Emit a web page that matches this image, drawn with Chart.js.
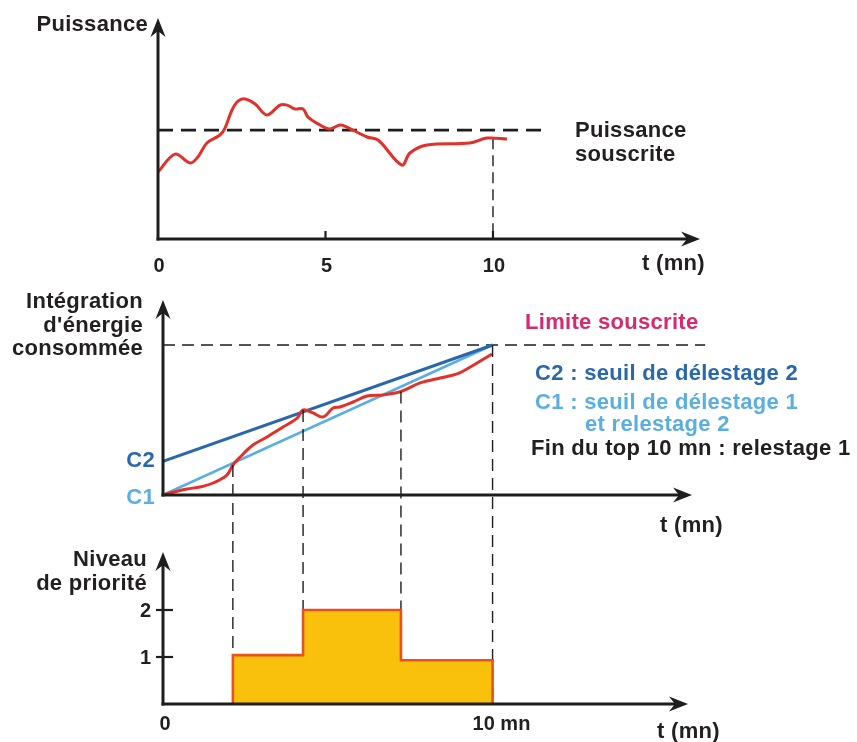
<!DOCTYPE html>
<html><head><meta charset="utf-8">
<script src="https://cdn.jsdelivr.net/npm/chart.js@4.4.1/dist/chart.umd.min.js"></script>
<style>
html,body{margin:0;padding:0;background:#fff;}
#wrap{position:relative;width:857px;height:742px;overflow:hidden;background:#fff;}
canvas{position:absolute;left:0;top:0;}
.t{position:absolute;font-family:"Liberation Sans",Arial,Helvetica,sans-serif;font-weight:bold;letter-spacing:0.3px;color:#231f20;white-space:nowrap;}
</style></head>
<body><div id="wrap">
<canvas id="c1" width="857" height="742"></canvas>
<canvas id="c2" width="857" height="742"></canvas>
<canvas id="c3" width="857" height="742"></canvas>
</div>
<script>
// ---------- DATA ----------
// Panel 1 : Puissance (t in mn)
const powerTime  = [0,0.51,0.96,1.19,1.46,1.85,2.0,2.21,2.39,2.6,2.9,3.25,3.64,3.85,4.09,4.33,4.48,4.84,5.13,5.43,5.64,6.24,6.57,7.28,7.52,8.03,9.31,9.82,10.42];
const powerValue = [61.5,78,69.8,75.3,88.2,95.5,101.9,118.5,126.7,128.6,124,113.9,123,123,119.4,119.4,112,104.7,101,104.7,102.8,93.7,90.9,67.9,79,86.3,88.2,92.7,91.8];
const subscribedPower = 100;
const subscribedEnd = 11.5;
const powerAt10 = 92.5;
const powerTicks = [0,5,10];
const powerMarks = [5,10];

// Panel 2 : Intégration d'énergie consommée
const energyTime  = [0,0.21,0.73,1.12,1.52,1.94,2.12,2.34,2.73,3.16,3.64,4.07,4.25,4.55,4.86,5.16,5.37,5.77,6.19,6.68,7.22,7.8,8.41,8.92,9.32,9.98];
const energyValue = [0,1.3,4,5.3,8,13.3,20,25.3,33.3,38.7,45.3,51.3,56.7,54.7,52,58,58.7,62,66,66.7,69,74.7,78,80.7,85.3,94];
const periodEnd = 10;
const limitEnergy = 100;
const limitLineEnd = 16.45;
const c2Start = 22.5;
const c1Start = 0;

// Panel 3 : Niveau de priorité
const stepTimes = [2.12, 4.25, 7.22, 10];
const stepLevels = [1.04, 2, 0.93];
const dropLevels = [20, 56.7, 69, 100];
const priorityTicks = [1,2];

// ---------- STYLE ----------
const AX = '#1e1e1e';
const RED = '#e2302b';
const DARKBLUE = '#2a68ad';
const LIGHTBLUE = '#5aaee0';
const MAGENTA = '#d42a6e';
const ORANGE = '#e8521c';
const GOLD = '#f9c10c';

Chart.defaults.devicePixelRatio = 1;

function arrowUp(ctx,x,t){ctx.beginPath();ctx.moveTo(x,t);ctx.lineTo(x+7.5,t+19);ctx.lineTo(x,t+13);ctx.lineTo(x-7.5,t+19);ctx.closePath();ctx.fill();}
function arrowRight(ctx,r,y){ctx.beginPath();ctx.moveTo(r,y);ctx.lineTo(r-19,y-7.5);ctx.lineTo(r-13,y);ctx.lineTo(r-19,y+7.5);ctx.closePath();ctx.fill();}

function axesPlugin(cfg){
  return {id:'axes_'+cfg.name, afterDatasetsDraw(chart){
    const {ctx, chartArea:a, scales:{x,y}} = chart;
    const x0 = x.getPixelForValue(0), y0 = y.getPixelForValue(0);
    ctx.save();
    ctx.strokeStyle = AX; ctx.fillStyle = AX; ctx.lineWidth = 3;
    ctx.beginPath(); ctx.moveTo(x0-1.5, y0); ctx.lineTo(a.right-12, y0); ctx.stroke();
    ctx.beginPath(); ctx.moveTo(x0, y0+1.5); ctx.lineTo(x0, a.top+12); ctx.stroke();
    arrowUp(ctx, x0, a.top); arrowRight(ctx, a.right, y0);
    ctx.lineWidth = 2.2;
    (cfg.xMarks||[]).forEach(v=>{const px=x.getPixelForValue(v);ctx.beginPath();ctx.moveTo(px,y0);ctx.lineTo(px,y0-8);ctx.stroke();});
    (cfg.yMarks||[]).forEach(v=>{const py=y.getPixelForValue(v);ctx.beginPath();ctx.moveTo(x0-7,py);ctx.lineTo(x0+10,py);ctx.stroke();});
    ctx.restore();
  }};
}

function baseOptions(pad, xmax, ymax){
  return {
    responsive:false, animation:false, events:[],
    layout:{padding:pad},
    plugins:{legend:{display:false}, tooltip:{enabled:false}},
    elements:{point:{radius:0}},
    scales:{
      x:{type:'linear', min:0, max:xmax, display:false},
      y:{type:'linear', min:0, max:ymax, display:false}
    }
  };
}
const pts = (xs,ys)=>xs.map((t,i)=>({x:t,y:ys[i]}));

// ---------- PANEL 1 ----------
const chart1 = new Chart(document.getElementById('c1'), {
  type:'line',
  data:{datasets:[
    {data:pts(powerTime,powerValue), borderColor:RED, borderWidth:3, tension:0.35, fill:false, order:0},
    {data:[{x:0,y:subscribedPower},{x:subscribedEnd,y:subscribedPower}], borderColor:AX, borderWidth:2.6, borderDash:[15,8], fill:false, order:1},
    {data:[{x:10,y:powerAt10},{x:10,y:0}], borderColor:AX, borderWidth:1.4, borderDash:[11,6], fill:false, order:2}
  ]},
  options:baseOptions({left:158,right:157,top:18,bottom:503}, 16.18, 203),
  plugins:[axesPlugin({name:'p1', xMarks:powerMarks})]
});

// ---------- PANEL 2 ----------
const chart2 = new Chart(document.getElementById('c2'), {
  type:'line',
  data:{datasets:[
    {data:pts(energyTime,energyValue), borderColor:RED, borderWidth:3, tension:0.35, fill:false, order:0},
    {data:[{x:0,y:c2Start},{x:periodEnd,y:limitEnergy}], borderColor:DARKBLUE, borderWidth:3, fill:false, order:1},
    {data:[{x:0,y:c1Start},{x:periodEnd,y:limitEnergy}], borderColor:LIGHTBLUE, borderWidth:2.6, fill:false, order:2},
    {data:[{x:0,y:limitEnergy},{x:limitLineEnd,y:limitEnergy}], borderColor:AX, borderWidth:1.4, borderDash:[12,7], fill:false, clip:false, order:3}
  ]},
  options:baseOptions({left:163,right:165,top:300,bottom:247}, 16.05, 130),
  plugins:[axesPlugin({name:'p2'})]
});

// ---------- PANEL 3 ----------
const stepPts = [{x:stepTimes[0],y:0}];
stepLevels.forEach((lv,i)=>{stepPts.push({x:stepTimes[i],y:lv});stepPts.push({x:stepTimes[i+1],y:lv});});
stepPts.push({x:stepTimes[stepTimes.length-1],y:0});

const dropPlugin = {id:'drops', beforeDatasetsDraw(chart){
  const {ctx, scales:{x,y}} = chart;
  const y0 = y.getPixelForValue(0);
  ctx.save(); ctx.strokeStyle = AX; ctx.lineWidth = 1.4; ctx.setLineDash([12,7]);
  stepTimes.forEach((t,i)=>{
    const px = x.getPixelForValue(t);
    const top = chart2.scales.y.getPixelForValue(dropLevels[i]);
    ctx.beginPath(); ctx.moveTo(px, top); ctx.lineTo(px, y0); ctx.stroke();
  });
  ctx.restore();
}};

const chart3 = new Chart(document.getElementById('c3'), {
  type:'line',
  data:{datasets:[
    {data:stepPts, borderColor:ORANGE, borderWidth:2.6, backgroundColor:GOLD, fill:'origin', tension:0, borderJoinStyle:'miter'}
  ]},
  options:baseOptions({left:163,right:169,top:552,bottom:38}, 15.93, 3.234),
  plugins:[dropPlugin, axesPlugin({name:'p3', yMarks:priorityTicks})]
});

// ---------- TEXT ----------
const wrap = document.getElementById('wrap');
function addText(str, x, base, o={}){
  const size = o.size||22, lh = Math.round(size*1.2);
  const d = document.createElement('div'); d.className='t'; d.textContent = str;
  d.style.fontSize = size+'px'; d.style.lineHeight = lh+'px';
  d.style.top = (base - ((lh - size*1.117)/2 + size*0.905))+'px';
  if(o.align==='right'){d.style.right=(857-x)+'px';}
  else if(o.align==='center'){d.style.left=x+'px';d.style.transform='translateX(-50%)';}
  else d.style.left = x+'px';
  if(o.color) d.style.color = o.color;
  if(o.ls!==undefined) d.style.letterSpacing = o.ls+'px';
  wrap.appendChild(d);
}
// Panel 1
addText('Puissance', 148, 32, {align:'right'});
addText('Puissance', 575, 138);
addText('souscrite', 575, 162);
addText('t (mn)', 642, 271);
powerTicks.forEach(v=>addText(String(v), chart1.scales.x.getPixelForValue(v)+1, 272, {align:'center', size:20, ls:0}));
// Panel 2
addText('Intégration', 143, 309, {align:'right'});
addText("d'énergie", 143, 333, {align:'right'});
addText('consommée', 143, 356, {align:'right'});
addText('C2', 155, 468, {align:'right', color:DARKBLUE});
addText('C1', 155, 505, {align:'right', color:LIGHTBLUE});
addText('Limite souscrite', 525, 330, {color:MAGENTA});
addText('C2 : seuil de délestage 2', 535, 381, {color:DARKBLUE});
addText('C1 : seuil de délestage 1', 535, 410, {color:LIGHTBLUE});
addText('et relestage 2', 585, 432, {color:LIGHTBLUE});
addText('Fin du top 10 mn : relestage 1', 531, 456);
addText('t (mn)', 660, 533);
// Panel 3
addText('Niveau', 147, 567, {align:'right'});
addText('de priorité', 147, 591, {align:'right'});
priorityTicks.forEach(v=>addText(String(v), 151, chart3.scales.y.getPixelForValue(v)+7, {align:'right', size:20, ls:0}));
addText('0', chart3.scales.x.getPixelForValue(0)+2, 730, {align:'center', size:20, ls:0});
addText('10 mn', chart3.scales.x.getPixelForValue(10)-20, 730, {size:20, ls:0});
addText('t (mn)', 657, 739);
</script>
</body></html>
